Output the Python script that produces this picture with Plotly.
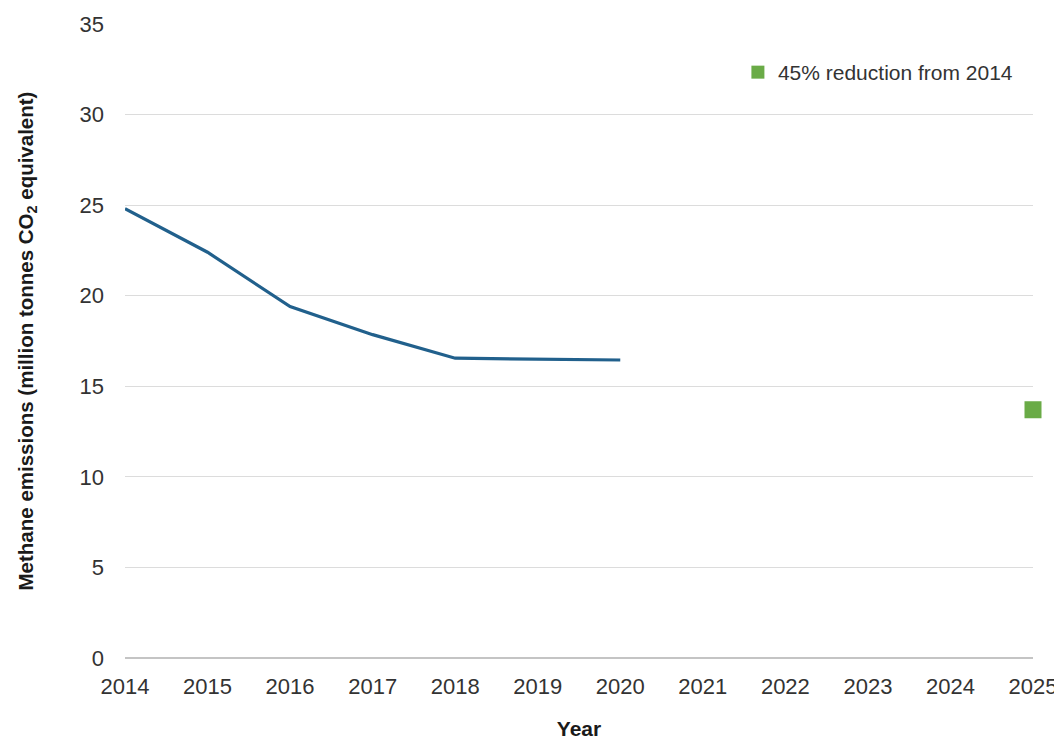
import plotly.graph_objects as go

years = [2014, 2015, 2016, 2017, 2018, 2019, 2020]
emissions = [24.8, 22.4, 19.4, 17.85, 16.55, 16.5, 16.45]
target_year = [2025]
target_value = [13.7]
target_label = "45% reduction from 2014"
x_ticks = list(range(2014, 2026))
y_ticks = [0, 5, 10, 15, 20, 25, 30, 35]

FONT = "Liberation Sans, Arial, sans-serif"
LINE_COLOR = "#21608C"
GREEN = "#6AAB47"

fig = go.Figure()
fig.add_trace(go.Scatter(
    x=years, y=emissions, mode="lines",
    line=dict(color=LINE_COLOR, width=3.2),
    showlegend=False, cliponaxis=False,
))
fig.add_trace(go.Scatter(
    x=target_year, y=target_value, mode="markers",
    marker=dict(symbol="square", size=15, color=GREEN,
                line=dict(color=GREEN, width=2)),
    showlegend=False, cliponaxis=False,
))
# legend entry
fig.add_trace(go.Scatter(
    x=[None], y=[None], mode="markers", name=target_label,
    marker=dict(symbol="square", size=13, color=GREEN),
    showlegend=True,
))

fig.update_layout(
    width=1054, height=732,
    margin=dict(l=117, r=29, t=16, b=82, autoexpand=False),
    plot_bgcolor="white", paper_bgcolor="white",
    font=dict(family=FONT, size=22, color="#333333"),
    legend=dict(
        x=0.675, y=0.9235, xanchor="left", yanchor="middle",
        font=dict(size=21, color="#333333"),
        bgcolor="rgba(0,0,0,0)", itemwidth=30,
    ),
    xaxis=dict(
        range=[2014, 2025], tickvals=x_ticks, ticktext=[str(v) for v in x_ticks],
        showgrid=False, zeroline=False, showline=False, ticks="",
        ticklabelstandoff=13,
        title=dict(text="<b>Year</b>", font=dict(size=21, color="#1a1a1a"), standoff=30),
        automargin=False,
    ),
    yaxis=dict(
        range=[0, 35], tickvals=y_ticks, showgrid=True, gridcolor="#dcdcdc", gridwidth=1.3,
        zeroline=True, zerolinecolor="#c4c4c4", zerolinewidth=1.5,
        showline=False, ticks="", ticklabelstandoff=20,
        title=dict(text="<b>Methane emissions (million tonnes CO<sub>2</sub> equivalent)</b>",
                   font=dict(size=20.5, color="#1a1a1a"), standoff=40),
        automargin=False,
    ),
)

fig.write_html("out.html")
